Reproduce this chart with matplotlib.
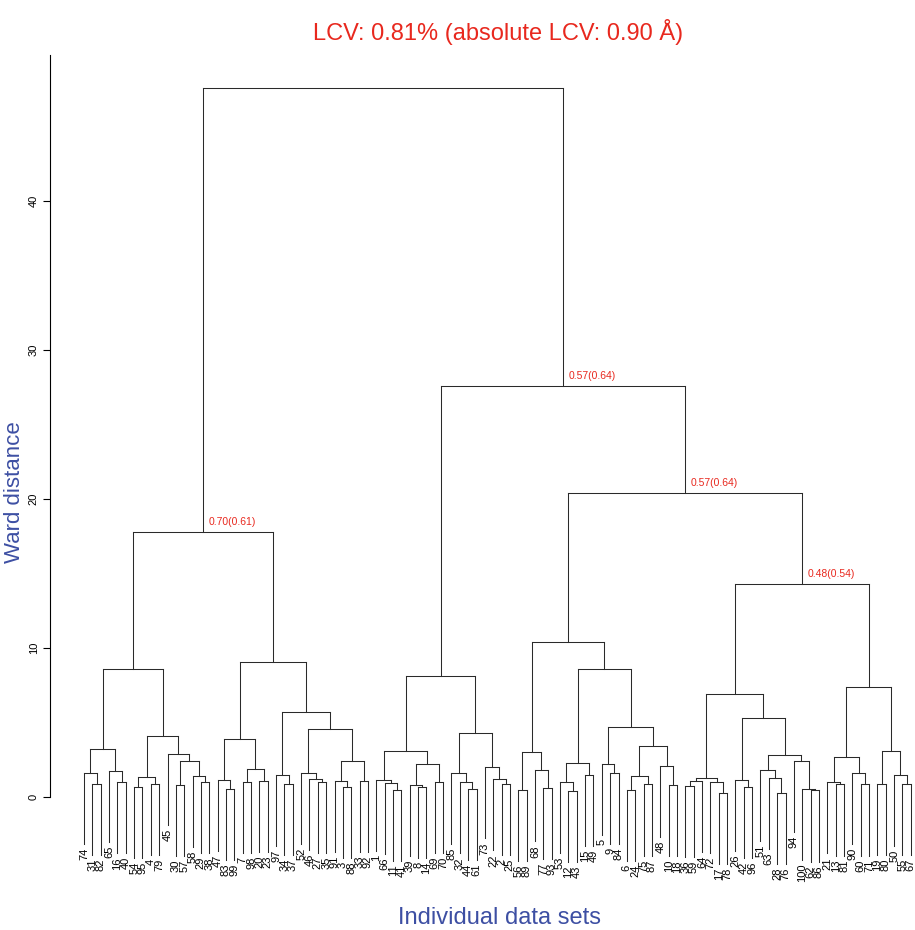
import matplotlib.pyplot as plt

plt.rcParams['font.family'] = ['Liberation Sans', 'DejaVu Sans']

# --- Árbol (Ward): cada nodo es (altura, izquierda, derecha); hojas = etiqueta ---
L1 = (8.6,
      (3.2, (1.62, '74', (0.87, '31', '82')), (1.77, '65', (1.0, '16', '40'))),
      (4.1, (1.35, (0.7, '54', '95'), (0.9, '4', '79')),
            (2.9, '45', (2.4, (0.8, '30', '57'), (1.4, '58', (1.0, '29', '38'))))))
L2 = (9.1,
      (3.9, (1.15, '47', (0.55, '83', '99')), (1.9, (1.0, '7', '98'), (1.1, '20', '23'))),
      (5.7, (1.5, '97', (0.9, '34', '37')),
            (4.6, (1.6, '52', (1.2, '46', (1.0, '27', '35'))),
                  (2.4, (1.1, '91', (0.7, '3', '88')), (1.1, '33', '92')))))
M = (8.1,
     (3.1, (1.15, '1', (0.95, '66', (0.5, '11', '41'))),
           (2.2, (0.8, '39', (0.7, '8', '14')), (1.0, '69', '70'))),
     (4.3, (1.6, '85', (1.0, '32', (0.55, '44', '61'))),
           (2.0, '73', (1.2, '22', (0.9, '2', '25')))))
R2a = (10.4,
       (3.0, (0.5, '56', '89'), (1.8, '68', (0.6, '77', '93'))),
       (8.6, (2.3, (1.0, '53', (0.4, '12', '43')), (1.5, '15', '49')),
             (4.7, (2.2, '5', (1.6, '9', '84')),
                   (3.4, (1.45, (0.5, '6', '24'), (0.85, '75', '87')),
                         (2.1, '48', (0.8, '10', '18'))))))
R2b_left = (6.9,
            (1.3, (1.1, (0.75, '36', '59'), '64'), (1.0, '72', (0.3, '17', '78'))),
            (5.3, (1.15, '26', (0.7, '42', '96')),
                  (2.8, (1.8, '51', (1.3, '63', (0.3, '28', '76'))),
                        (2.4, '94', (0.55, '100', (0.45, '62', '86'))))))
R2b_right = (7.4,
             (2.7, (1.0, '21', (0.85, '13', '81')), (1.6, '90', (0.85, '60', '71'))),
             (3.1, (0.9, '19', '80'), (1.5, '50', (0.9, '55', '67'))))
R2b = (14.3, R2b_left, R2b_right)
R2 = (20.4, R2a, R2b)
R = (27.6, M, R2)
L = (17.8, L1, L2)
root = (47.6, L, R)

# valores de estabilidad en algunos nodos
note_nodes = [L, R, R2, R2b]
note_texts = ['0.70(0.61)', '0.57(0.64)', '0.57(0.64)', '0.48(0.54)']

hang = 4.77
line_kw = dict(color='#2a2a2a', lw=0.75)

fig = plt.figure(figsize=(9.15, 9.3), dpi=100)
ax = fig.add_axes([50/915, 1 - 894/930, 865/915, (894 - 55)/930])

pos = {}
count = [0]

def draw(node):
    """dibuja el nodo y devuelve su coordenada x"""
    h, a, b = node
    xs = []
    for c in (a, b):
        if isinstance(c, str):
            count[0] += 1
            xc = count[0]
            ax.plot([xc, xc], [h, h - hang], **line_kw)
            ax.text(xc, h - hang - 0.25, c, rotation=90, ha='center', va='top',
                    fontsize=8)
        else:
            xc = draw(c)
            ax.plot([xc, xc], [h, c[0]], **line_kw)
        xs.append(xc)
    ax.plot(xs, [h, h], **line_kw)
    xm = (xs[0] + xs[1]) / 2
    pos[id(node)] = xm
    return xm

draw(root)

for nd, t in zip(note_nodes, note_texts):
    ax.text(pos[id(nd)] + 0.75, nd[0] + 0.35, t, color='#e8281e', fontsize=7.5,
            ha='left', va='bottom')

ax.set_xlim(-3.07, 100.5)
ax.set_ylim(-6.5, 49.8)
for s in ['top', 'right', 'bottom']:
    ax.spines[s].set_visible(False)
ax.spines['left'].set_linewidth(0.8)
ax.spines['left'].set_bounds(0, 49.8)
ax.set_xticks([])
ax.set_yticks([0, 10, 20, 30, 40])
ax.set_yticklabels(['0', '10', '20', '30', '40'], rotation=90, va='center', fontsize=8)
ax.tick_params(axis='y', length=5, width=0.8, pad=3)

fig.text(498/915, 1 - 32/930, 'LCV: 0.81% (absolute LCV: 0.90 Å)', color='#e8281e',
         fontsize=17, ha='center', va='center')
fig.text(15/915, 1 - 492/930, 'Ward distance', color='#3d4fa3', fontsize=16,
         rotation=90, ha='center', va='center')
fig.text(499/915, 1 - 918/930, 'Individual data sets', color='#3d4fa3', fontsize=17,
         ha='center', va='center')

plt.savefig('out.png', dpi=100)
